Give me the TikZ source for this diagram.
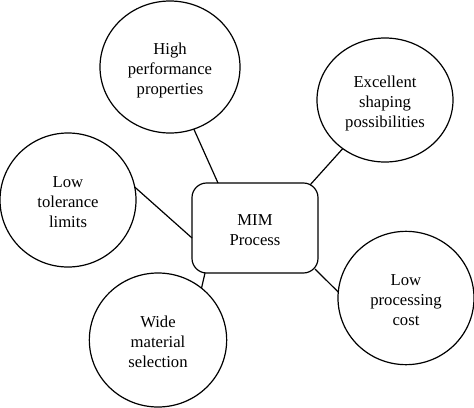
\documentclass[tikz,border=0pt]{standalone}
\usepackage{fontspec}
\setmainfont{Liberation Serif}
\usetikzlibrary{shapes.geometric,calc}
\newcommand{\tlines}[1]{\raisebox{-2.5pt}[\height][\depth]{\begin{tabular}{@{}c@{}}#1\end{tabular}}}
\begin{document}
\begin{tikzpicture}[x=0.75pt,y=-0.75pt,
  bub/.style={ellipse,draw,line width=0.9pt,inner sep=0pt,outer sep=0pt,align=center,font=\fontsize{12.5}{15.3}\selectfont},
  mainbox/.style={rectangle,rounded corners=11pt,draw,line width=0.9pt,outer sep=0pt,minimum width=94.5pt,minimum height=67.5pt,align=center,font=\fontsize{12.5}{15.3}\selectfont},
  link/.style={line width=0.9pt}]
\useasboundingbox (0,0) rectangle (474,407);
\node[mainbox] (m) at (255,228) {\tlines{MIM\\Process}};
\node[bub,minimum width=105pt,minimum height=99pt] (hp) at (170,67) {\tlines{High\\performance\\properties}};
\node[bub,minimum width=102pt,minimum height=93pt] (ex) at (385,100) {\tlines{Excellent\\shaping\\possibilities}};
\node[bub,minimum width=102pt,minimum height=100.5pt] (lt) at (68,200) {\tlines{Low\\tolerance\\limits}};
\node[bub,minimum width=102pt,minimum height=100pt] (lp) at (406,298) {\tlines{Low\\processing\\cost}};
\node[bub,minimum width=103pt,minimum height=100.5pt] (wm) at (158,340) {\tlines{Wide\\material\\selection}};
\draw[link] (hp.-69) -- ($(m.north west)+(26,0)$);
\draw[link] (ex.-131) -- ($(m.north east)+(-8,2)$);
\draw[link] (lt.11) -- (m.189);
\draw[link] (wm.50) -- ($(m.south west)+(13,0)$);
\draw[link] (lp.175) -- ($(m.south east)+(-3,-4)$);
\end{tikzpicture}
\end{document}
